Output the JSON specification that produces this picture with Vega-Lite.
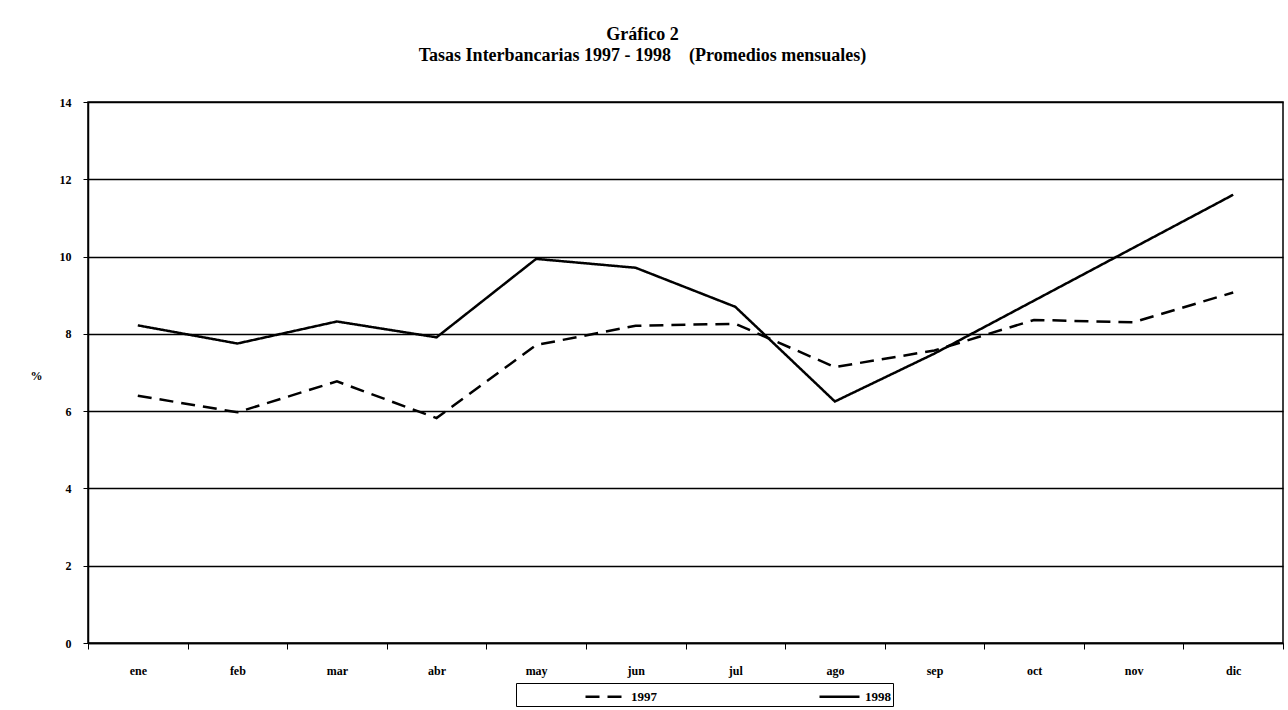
{
  "$schema": "https://vega.github.io/schema/vega-lite/v6.json",
  "width": 1195,
  "height": 541,
  "autosize": {"type": "none"},
  "padding": {"left": 88, "top": 102, "right": 5, "bottom": 67},
  "background": "white",
  "title": {
    "text": ["Gráfico 2", "Tasas Interbancarias 1997 - 1998\u00a0\u00a0\u00a0\u00a0(Promedios mensuales)"],
    "font": "Liberation Serif",
    "fontSize": 18,
    "fontWeight": "bold",
    "lineHeight": 21,
    "offset": 31,
    "anchor": "middle",
    "dx": -43,
    "color": "black"
  },
  "data": {
    "values": [
      {"mes": "ene", "serie": "1997", "tasa": 6.4},
      {"mes": "feb", "serie": "1997", "tasa": 5.97},
      {"mes": "mar", "serie": "1997", "tasa": 6.77},
      {"mes": "abr", "serie": "1997", "tasa": 5.82},
      {"mes": "may", "serie": "1997", "tasa": 7.71},
      {"mes": "jun", "serie": "1997", "tasa": 8.21},
      {"mes": "jul", "serie": "1997", "tasa": 8.26},
      {"mes": "ago", "serie": "1997", "tasa": 7.14},
      {"mes": "sep", "serie": "1997", "tasa": 7.57},
      {"mes": "oct", "serie": "1997", "tasa": 8.36},
      {"mes": "nov", "serie": "1997", "tasa": 8.3},
      {"mes": "dic", "serie": "1997", "tasa": 9.07},
      {"mes": "ene", "serie": "1998", "tasa": 8.22},
      {"mes": "feb", "serie": "1998", "tasa": 7.75},
      {"mes": "mar", "serie": "1998", "tasa": 8.32},
      {"mes": "abr", "serie": "1998", "tasa": 7.91},
      {"mes": "may", "serie": "1998", "tasa": 9.94},
      {"mes": "jun", "serie": "1998", "tasa": 9.71},
      {"mes": "jul", "serie": "1998", "tasa": 8.7},
      {"mes": "ago", "serie": "1998", "tasa": 6.25},
      {"mes": "sep", "serie": "1998", "tasa": 7.49},
      {"mes": "oct", "serie": "1998", "tasa": 8.86},
      {"mes": "nov", "serie": "1998", "tasa": 10.23},
      {"mes": "dic", "serie": "1998", "tasa": 11.6}
    ]
  },
  "mark": {"type": "line", "color": "black", "strokeWidth": 2.5},
  "encoding": {
    "x": {
      "field": "mes",
      "type": "nominal",
      "sort": ["ene", "feb", "mar", "abr", "may", "jun", "jul", "ago", "sep", "oct", "nov", "dic"],
      "scale": {"type": "band", "paddingInner": 0, "paddingOuter": 0},
      "axis": {
        "title": null,
        "tickBand": "extent",
        "tickSize": 6,
        "tickColor": "black",
        "domainColor": "black",
        "domainWidth": 1.5,
        "labelPadding": 16,
        "labelAngle": 0,
        "labelFont": "Liberation Serif",
        "labelFontSize": 12,
        "labelFontWeight": "bold",
        "labelColor": "black",
        "grid": false
      }
    },
    "y": {
      "field": "tasa",
      "type": "quantitative",
      "scale": {"domain": [0, 14], "nice": false},
      "axis": {
        "title": "%",
        "titleAngle": 0,
        "titleX": -52,
        "titleY": 273,
        "titleAlign": "center",
        "titleBaseline": "middle",
        "titleFont": "Liberation Serif",
        "titleFontSize": 12,
        "titleFontWeight": "bold",
        "titleColor": "black",
        "values": [0, 2, 4, 6, 8, 10, 12, 14],
        "grid": true,
        "gridColor": "black",
        "gridWidth": 1.5,
        "gridOpacity": 1,
        "domainColor": "black",
        "domainWidth": 1.5,
        "tickColor": "black",
        "tickSize": 5,
        "labelPadding": 12,
        "labelFont": "Liberation Serif",
        "labelFontSize": 12,
        "labelFontWeight": "bold",
        "labelColor": "black"
      }
    },
    "strokeDash": {
      "field": "serie",
      "type": "nominal",
      "scale": {"domain": ["1997", "1998"], "range": [[14, 8], [1, 0]]},
      "legend": {
        "title": null,
        "orient": "none",
        "legendX": 428,
        "legendY": 581,
        "direction": "horizontal",
        "strokeColor": "black",
        "fillColor": "white",
        "padding": 2,
        "symbolType": "M-2,0H2",
        "symbolSize": 400,
        "symbolStrokeWidth": 2.5,
        "symbolStrokeColor": "black",
        "symbolOffset": 76,
        "labelOffset": 14,
        "columnPadding": 95,
        "labelFont": "Liberation Serif",
        "labelFontSize": 13,
        "labelFontWeight": "bold",
        "labelColor": "black"
      }
    }
  },
  "config": {"view": {"stroke": "black", "strokeWidth": 1.5}}
}
